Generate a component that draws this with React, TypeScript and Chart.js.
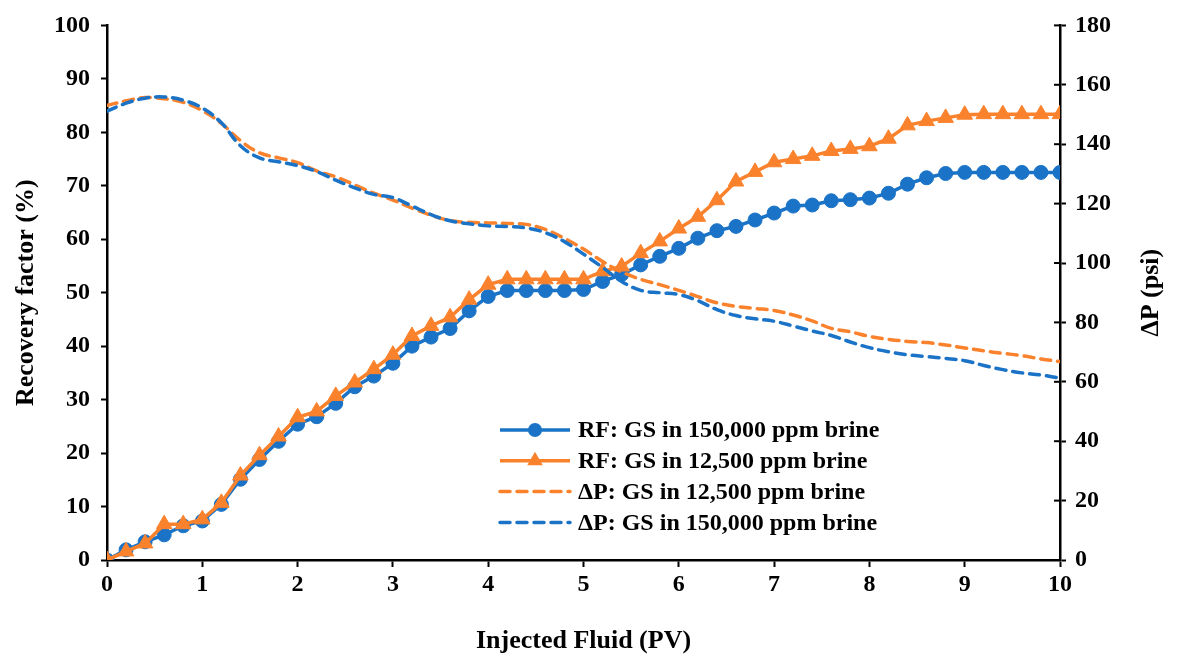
import React, { useEffect, useRef } from 'react';
import { Chart, registerables } from 'chart.js';

Chart.register(...registerables);

// ---- data ----
const PV = [
  0, 0.2, 0.4, 0.6, 0.8, 1.0, 1.2, 1.4, 1.6, 1.8, 2.0,
  2.2, 2.4, 2.6, 2.8, 3.0, 3.2, 3.4, 3.6, 3.8, 4.0,
  4.2, 4.4, 4.6, 4.8, 5.0, 5.2, 5.4, 5.6, 5.8, 6.0,
  6.2, 6.4, 6.6, 6.8, 7.0, 7.2, 7.4, 7.6, 7.8, 8.0,
  8.2, 8.4, 8.6, 8.8, 9.0, 9.2, 9.4, 9.6, 9.8, 10.0,
];

// Recovery factor (%), GS in 150,000 ppm brine
const rf150000 = [
  0, 1.9, 3.4, 4.7, 6.4, 7.3, 10.4, 15.1, 18.8, 22.2, 25.4,
  26.8, 29.3, 32.4, 34.4, 36.8, 40.0, 41.7, 43.3, 46.6, 49.3,
  50.4, 50.4, 50.4, 50.4, 50.6, 52.1, 53.4, 55.2, 56.8, 58.3,
  60.2, 61.6, 62.4, 63.6, 64.9, 66.2, 66.4, 67.2, 67.4, 67.7,
  68.6, 70.3, 71.5, 72.3, 72.5, 72.5, 72.5, 72.5, 72.5, 72.5,
];

// Recovery factor (%), GS in 12,500 ppm brine
const rf12500 = [
  0, 1.6, 3.1, 6.7, 6.7, 7.6, 10.7, 15.8, 19.6, 23.1, 26.7,
  27.8, 30.7, 33.2, 35.7, 38.4, 41.9, 43.8, 45.4, 48.7, 51.5,
  52.5, 52.5, 52.5, 52.5, 52.5, 54.0, 54.9, 57.4, 59.6, 62.0,
  64.2, 67.3, 70.8, 72.6, 74.4, 75.0, 75.6, 76.5, 76.9, 77.4,
  78.8, 81.3, 82.1, 82.7, 83.3, 83.4, 83.4, 83.4, 83.4, 83.4,
];

// Pressure drop (psi), GS in 12,500 ppm brine
const dp12500 = [
  153.1, 154.6, 155.7, 155.3, 154.1, 151.3, 147.0, 141.2, 137.1, 135.4, 133.8,
  131.0, 129.0, 126.3, 123.5, 121.2, 118.5, 116.1, 114.3, 113.7, 113.5,
  113.3, 113.0, 111.3, 108.3, 104.7, 100.5, 97.0, 94.5, 92.7, 90.8,
  88.7, 86.6, 85.4, 84.7, 84.0, 82.5, 80.5, 78.0, 76.8, 75.3,
  74.3, 73.6, 73.2, 72.4, 71.4, 70.4, 69.6, 68.8, 67.7, 66.8,
];

// Pressure drop (psi), GS in 150,000 ppm brine
const dp150000 = [
  151.1, 153.8, 155.5, 155.9, 154.8, 152.2, 147.2, 139.5, 135.4, 134.1, 132.8,
  130.8, 127.9, 125.3, 123.1, 122.0, 119.2, 116.3, 114.2, 113.2, 112.5,
  112.3, 111.8, 110.2, 107.2, 103.0, 98.5, 93.8, 90.8, 90.0, 89.4,
  87.3, 84.3, 82.3, 81.2, 80.4, 78.8, 77.1, 75.6, 73.4, 71.5,
  70.1, 69.1, 68.5, 67.9, 67.1, 65.5, 64.1, 63.0, 62.3, 61.2,
];

const LABEL_RF_150 = 'RF: GS in 150,000 ppm brine';
const LABEL_RF_125 = 'RF: GS in 12,500 ppm brine';
const LABEL_DP_125 = '\u0394P: GS in 12,500 ppm brine';
const LABEL_DP_150 = '\u0394P: GS in 150,000 ppm brine';

const X_TITLE = 'Injected Fluid (PV)';
const Y_TITLE = 'Recovery factor (%)';
const Y1_TITLE = '\u0394P (psi)';

// ---- styles ----
const FONT = "'Liberation Serif', 'Times New Roman', serif";
const BLUE = '#1A73C6';
const ORANGE = '#FB822D';
const TICK_FONT = { family: FONT, size: 24, weight: 'bold' as const };
const TITLE_FONT = { family: FONT, size: 26, weight: 'bold' as const };

const toXY = (ys: number[]) => PV.map((x, i) => ({ x, y: ys[i] }));

const insideLegend = {
  id: 'insideLegend',
  afterDraw(chart: any) {
    const ctx: CanvasRenderingContext2D = chart.ctx;
    const legendOrder = [0, 1, 2, 3];
    const x0 = 500;
    const x1 = 570;
    const textX = 578;
    const y0 = 430;
    const rowH = 30.8;
    ctx.save();
    legendOrder.forEach((di, row) => {
      const ds = chart.data.datasets[di];
      const y = y0 + row * rowH;
      ctx.strokeStyle = ds.borderColor;
      ctx.lineWidth = ds.borderWidth;
      ctx.lineCap = ds.borderDash ? 'round' : 'butt';
      ctx.setLineDash(ds.borderDash || []);
      ctx.beginPath();
      ctx.moveTo(x0, y);
      ctx.lineTo(x1, y);
      ctx.stroke();
      ctx.setLineDash([]);
      const mx = (x0 + x1) / 2;
      if (ds.pointRadius > 0) {
        ctx.fillStyle = ds.backgroundColor;
        ctx.beginPath();
        if (ds.pointStyle === 'triangle') {
          const r = ds.pointRadius;
          for (let k = 0; k < 3; k++) {
            const a = (k * 2 * Math.PI) / 3;
            const px = mx + Math.sin(a) * r;
            const py = y - Math.cos(a) * r;
            if (k === 0) ctx.moveTo(px, py);
            else ctx.lineTo(px, py);
          }
          ctx.closePath();
        } else {
          ctx.arc(mx, y, ds.pointRadius, 0, Math.PI * 2);
        }
        ctx.fill();
      }
      ctx.fillStyle = '#000';
      ctx.font = `bold 24px ${FONT}`;
      ctx.textAlign = 'left';
      ctx.textBaseline = 'middle';
      ctx.fillText(ds.label, textX, y + 1);
    });
    ctx.restore();
  },
};

// secondary axis: crossing tick marks (inner half) and an upward-reading title
const rightAxisExtras = {
  id: 'rightAxisExtras',
  afterDraw(chart: any) {
    const s = chart.scales.y1;
    const ctx: CanvasRenderingContext2D = chart.ctx;
    ctx.save();
    ctx.strokeStyle = '#000';
    ctx.lineWidth = 2;
    s.ticks.forEach((t: any) => {
      const py = s.getPixelForValue(t.value);
      ctx.beginPath();
      ctx.moveTo(s.left - 6, py);
      ctx.lineTo(s.left, py);
      ctx.stroke();
    });
    ctx.translate(1151, (s.top + s.bottom) / 2);
    ctx.rotate(-Math.PI / 2);
    ctx.fillStyle = '#000';
    ctx.font = `bold 26px ${FONT}`;
    ctx.textAlign = 'center';
    ctx.textBaseline = 'middle';
    ctx.fillText(Y1_TITLE, 0, 0);
    ctx.restore();
  },
};

export default function App() {
  const ref = useRef<HTMLCanvasElement>(null);

  useEffect(() => {
    if (!ref.current) return;
    const chart = new Chart(ref.current, {
      type: 'line',
      data: {
        datasets: [
          {
            label: LABEL_RF_150,
            data: toXY(rf150000),
            yAxisID: 'y',
            borderColor: BLUE,
            backgroundColor: BLUE,
            borderWidth: 3.5,
            pointStyle: 'circle',
            pointRadius: 7,
            pointBorderWidth: 1,
            pointHoverRadius: 7,
            tension: 0,
            order: 3,
          },
          {
            label: LABEL_RF_125,
            data: toXY(rf12500),
            yAxisID: 'y',
            borderColor: ORANGE,
            backgroundColor: ORANGE,
            borderWidth: 3.5,
            pointStyle: 'triangle',
            pointRadius: 9,
            pointBorderWidth: 1,
            pointHoverRadius: 9,
            tension: 0,
            order: 2,
          },
          {
            label: LABEL_DP_125,
            data: toXY(dp12500),
            yAxisID: 'y1',
            borderColor: ORANGE,
            backgroundColor: ORANGE,
            borderWidth: 3.5,
            borderDash: [10, 7],
            borderCapStyle: 'round',
            pointRadius: 0,
            tension: 0.4,
            order: 1,
          },
          {
            label: LABEL_DP_150,
            data: toXY(dp150000),
            yAxisID: 'y1',
            borderColor: BLUE,
            backgroundColor: BLUE,
            borderWidth: 3.5,
            borderDash: [10, 7],
            borderCapStyle: 'round',
            pointRadius: 0,
            tension: 0.4,
            order: 0,
          },
        ] as any,
      },
      options: {
        animation: false,
        responsive: false,
        devicePixelRatio: 1,
        layout: { padding: { top: 23, left: 0, right: 0, bottom: 0 } },
        plugins: {
          legend: { display: false },
          tooltip: { enabled: false },
        },
        scales: {
          x: {
            type: 'linear',
            min: 0,
            max: 10,
            ticks: {
              stepSize: 1,
              color: '#000',
              font: TICK_FONT,
              padding: 3,
            },
            grid: {
              drawOnChartArea: false,
              drawTicks: true,
              tickLength: 7,
              tickWidth: 2,
              tickColor: '#000',
            },
            border: { display: true, color: '#000', width: 2.5 },
            title: {
              display: true,
              text: X_TITLE,
              color: '#000',
              font: TITLE_FONT,
              padding: { top: 0, bottom: 0 },
            },
            afterFit: (s: any) => {
              s.height = 97;
            },
          },
          y: {
            type: 'linear',
            position: 'left',
            min: 0,
            max: 100,
            ticks: {
              stepSize: 10,
              color: '#000',
              font: TICK_FONT,
              padding: 11,
            },
            grid: {
              drawOnChartArea: false,
              drawTicks: true,
              tickLength: 6,
              tickWidth: 2,
              tickColor: '#000',
            },
            border: { display: true, color: '#000', width: 2.5 },
            title: {
              display: true,
              text: Y_TITLE,
              color: '#000',
              font: TITLE_FONT,
              padding: { top: 11, bottom: 0 },
            },
            afterFit: (s: any) => {
              s.width = 107;
            },
          },
          y1: {
            type: 'linear',
            position: 'right',
            min: 0,
            max: 180,
            ticks: {
              stepSize: 20,
              color: '#000',
              font: TICK_FONT,
              padding: 9,
            },
            grid: {
              drawOnChartArea: false,
              drawTicks: true,
              tickLength: 6,
              tickWidth: 2,
              tickColor: '#000',
            },
            border: { display: true, color: '#000', width: 2.5 },
            title: { display: false },
            afterFit: (s: any) => {
              s.width = 118;
            },
          },
        },
      } as any,
      plugins: [insideLegend, rightAxisExtras],
    });
    return () => chart.destroy();
  }, []);

  return (
    <div style={{ position: 'fixed', left: 0, top: 0, width: 1178, height: 657, background: '#fff' }}>
      <canvas ref={ref} width={1178} height={657} />
    </div>
  );
}
